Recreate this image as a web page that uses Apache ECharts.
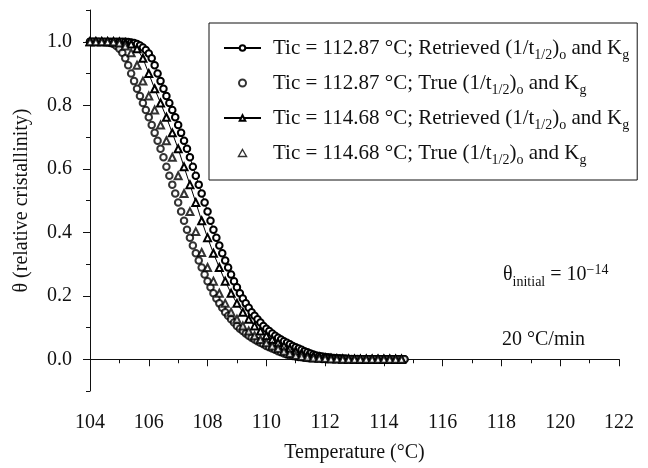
<!DOCTYPE html>
<html><head><meta charset="utf-8">
<script src="https://cdn.jsdelivr.net/npm/echarts@6/dist/echarts.min.js"></script>
<style>html,body{margin:0;padding:0;background:#fff}#c{width:648px;height:468px}</style>
</head><body><div id="c"></div>
<script>
// Temperatures (°C) of the circle series and triangle series
const tempCircle = [104.0,104.1,104.2,104.3,104.4,104.5,104.6,104.7,104.8,104.9,
105.0,105.1,105.2,105.3,105.4,105.5,105.6,105.7,105.8,105.9,
106.0,106.1,106.2,106.3,106.4,106.5,106.6,106.7,106.8,106.9,
107.0,107.1,107.2,107.3,107.4,107.5,107.6,107.7,107.8,107.9,
108.0,108.1,108.2,108.3,108.4,108.5,108.6,108.7,108.8,108.9,
109.0,109.1,109.2,109.3,109.4,109.5,109.6,109.7,109.8,109.9,
110.0,110.1,110.2,110.3,110.4,110.5,110.6,110.7,110.8,110.9,
111.0,111.1,111.2,111.3,111.4,111.5,111.6,111.7,111.8,111.9,
112.0,112.1,112.2,112.3,112.4,112.5,112.6,112.7,112.8,112.9,
113.0,113.1,113.2,113.3,113.4,113.5,113.6,113.7,113.8,113.9,
114.0,114.1,114.2,114.3,114.4,114.5,114.6,114.7];
const tempTriangle = [104.0,104.2,104.4,104.6,104.8,105.0,105.2,105.4,105.6,105.8,
106.0,106.2,106.4,106.6,106.8,107.0,107.2,107.4,107.6,107.8,
108.0,108.2,108.4,108.6,108.8,109.0,109.2,109.4,109.6,109.8,
110.0,110.2,110.4,110.6,110.8,111.0,111.2,111.4,111.6,111.8,
112.0,112.2,112.4,112.6,112.8,113.0,113.2,113.4,113.6,113.8,
114.0,114.2,114.4,114.6];

// Tic = 112.87 °C, retrieved (line + circles)
const retrieved11287 = [1,1,1,1,1,1,1,1,1,1.000,
1.000,1.000,1.000,0.999,0.998,0.996,0.993,0.988,0.982,0.974,
0.963,0.948,0.926,0.900,0.876,0.852,0.829,0.807,0.785,0.762,
0.738,0.713,0.688,0.663,0.636,0.606,0.578,0.550,0.522,0.494,
0.465,0.436,0.408,0.383,0.358,0.334,0.311,0.289,0.267,0.246,
0.227,0.208,0.191,0.176,0.162,0.148,0.137,0.126,0.116,0.105,
0.096,0.089,0.081,0.074,0.068,0.062,0.057,0.052,0.047,0.042,
0.038,0.034,0.030,0.025,0.022,0.018,0.015,0.012,0.010,0.009,
0.007,0.006,0.005,0.004,0.003,0.003,0.002,0.002,0.001,0.001,
0.001,0.001,0,0,0,0,0,0,0,0,
0,0,0,0,0,0,0,0];
// Tic = 112.87 °C, true (circles)
const true11287 = [1.000,1.000,1.000,1.000,0.999,0.999,0.998,0.996,0.993,0.987,
0.978,0.965,0.948,0.926,0.900,0.876,0.852,0.829,0.807,0.785,
0.762,0.738,0.713,0.688,0.663,0.636,0.606,0.578,0.550,0.522,
0.494,0.465,0.436,0.408,0.383,0.358,0.334,0.311,0.289,0.267,
0.246,0.227,0.208,0.191,0.176,0.162,0.148,0.137,0.126,0.116,
0.105,0.096,0.089,0.081,0.074,0.068,0.062,0.057,0.052,0.047,
0.042,0.038,0.034,0.030,0.025,0.022,0.018,0.015,0.012,0.010,
0.009,0.007,0.006,0.005,0.004,0.003,0.003,0.002,0.002,0.001,
0.001,0.001,0.001,0,0,0,0,0,0,0,
0,0,0,0,0,0,0,0,0,0,
0,0,0,0,0,0,0,0];
// Tic = 114.68 °C, retrieved (line + triangles)
const retrieved11468 = [1.000,1.000,1.000,1.000,1.000,0.999,0.997,0.993,0.978,0.948,
0.900,0.852,0.807,0.762,0.713,0.663,0.606,0.550,0.494,0.436,
0.383,0.334,0.289,0.246,0.208,0.176,0.148,0.126,0.105,0.089,
0.074,0.062,0.052,0.042,0.034,0.025,0.018,0.012,0.009,0.006,
0.004,0.003,0.002,0.001,0.001,0,0,0,0,0,
0,0,0,0];
// Tic = 114.68 °C, true (triangles)
const true11468 = [1.000,1.000,1.000,1.000,0.999,0.996,0.987,0.965,0.926,0.876,
0.829,0.785,0.738,0.688,0.636,0.578,0.522,0.465,0.402,0.336,
0.289,0.246,0.208,0.176,0.148,0.126,0.105,0.089,0.074,0.062,
0.052,0.042,0.034,0.025,0.018,0.012,0.009,0.006,0.004,0.003,
0.002,0.001,0.001,0,0,0,0,0,0,0,
0,0,0,0];

const seriesNames = [
  'Tic = 112.87 °C; Retrieved (1/t1/2)o and Kg',
  'Tic = 112.87 °C; True (1/t1/2)o and Kg',
  'Tic = 114.68 °C; Retrieved (1/t1/2)o and Kg',
  'Tic = 114.68 °C; True (1/t1/2)o and Kg'
];
const legendRich = [
  '{g| }{n|Tic = 112.87 °C; Retrieved (1/t}{s|1/2}{n|)}{s|o}{n| and K}{s|g}',
  '{g| }{n|Tic = 112.87 °C; True (1/t}{s|1/2}{n|)}{s|o}{n| and K}{s|g}',
  '{g| }{n|Tic = 114.68 °C; Retrieved (1/t}{s|1/2}{n|)}{s|o}{n| and K}{s|g}',
  '{g| }{n|Tic = 114.68 °C; True (1/t}{s|1/2}{n|)}{s|o}{n| and K}{s|g}'
];
const yTickValues = [0, 0.2, 0.4, 0.6, 0.8, 1.0];

const FONT = 'Liberation Serif';
const INK = '#000';
const TXT = '#111';
const pair = (xs, ys) => xs.map((x, i) => [x, ys[i]]);
const TRI = 'path://M0,-5L4.33,2.5L-4.33,2.5Z';

const chart = echarts.init(document.getElementById('c'), null, {renderer: 'canvas'});
chart.setOption({
  animation: false,
  backgroundColor: '#fff',
  grid: {left: 90, top: 10, width: 529, height: 381},
  xAxis: {
    type: 'value', min: 104, max: 122, interval: 2,
    axisLine: {lineStyle: {color: TXT, width: 1}},
    axisTick: {length: 7, lineStyle: {color: TXT}},
    minorTick: {show: true, splitNumber: 2, length: 4, lineStyle: {color: TXT}},
    splitLine: {show: false},
    axisLabel: {margin: 22, fontFamily: FONT, fontSize: 20, color: TXT},
    name: 'Temperature (°C)', nameLocation: 'middle', nameGap: 52,
    nameTextStyle: {fontFamily: FONT, fontSize: 20, color: TXT}
  },
  yAxis: [{
    type: 'value', min: -0.1, max: 1.1, interval: 0.1,
    axisLine: {show: true, lineStyle: {color: TXT, width: 1}},
    axisTick: {show: true, length: 7, customValues: yTickValues, lineStyle: {color: TXT}},
    splitLine: {show: false},
    axisLabel: {customValues: yTickValues, formatter: v => v.toFixed(1), margin: 18,
      fontFamily: FONT, fontSize: 20, color: TXT},
    name: 'θ (relative cristallinity)', nameLocation: 'middle', nameGap: 58,
    nameTextStyle: {fontFamily: FONT, fontSize: 20, color: TXT}
  }, {
    type: 'value', min: -0.1, max: 1.1, interval: 0.1, position: 'left',
    axisLine: {show: false}, splitLine: {show: false},
    axisTick: {show: true, length: 4, lineStyle: {color: TXT}},
    axisLabel: {show: false}
  }],
  legend: {
    orient: 'vertical', left: 209, top: 23,
    itemWidth: 37, itemHeight: 7, itemGap: 7,
    padding: [11, 8, 13, 14],
    borderColor: TXT, borderWidth: 1,
    selectedMode: false,
    data: [
      seriesNames[0],
      seriesNames[1],
      seriesNames[2],
      {name: seriesNames[3], icon: TRI, itemStyle: {color: '#fff', borderColor: INK, borderWidth: 1.4}}
    ],
    formatter: name => legendRich[seriesNames.indexOf(name)],
    textStyle: {
      fontFamily: FONT, fontSize: 21, color: TXT,
      rich: {
        g: {width: 7, fontSize: 21, fontFamily: FONT},
        n: {fontFamily: FONT, fontSize: 21, lineHeight: 22, color: TXT},
        s: {fontFamily: FONT, fontSize: 14, lineHeight: 14, padding: [14, 0, 0, 0], color: TXT}
      }
    }
  },
  graphic: [{
    type: 'text', left: 503, top: 261,
    style: {
      text: '{t|θ}{s|initial}{t| = 10}{p|−14}',
      rich: {
        t: {fontFamily: FONT, fontSize: 20, lineHeight: 22, fill: TXT},
        s: {fontFamily: FONT, fontSize: 14, lineHeight: 14, padding: [14, 0, 0, 0], fill: TXT},
        p: {fontFamily: FONT, fontSize: 14, lineHeight: 14, padding: [0, 0, 10, 0], fill: TXT}
      }
    }
  }, {
    type: 'text', left: 502, top: 330,
    style: {text: '20 °C/min', fontFamily: FONT, fontSize: 20, fill: TXT}
  }],
  series: [{
    name: seriesNames[0], type: 'line', data: pair(tempCircle, retrieved11287),
    symbol: 'emptyCircle', symbolSize: 6.5, showSymbol: true, showAllSymbol: true,
    itemStyle: {color: INK, borderWidth: 1.5}, lineStyle: {color: INK, width: 1}, z: 2
  }, {
    name: seriesNames[1], type: 'scatter', data: pair(tempCircle, true11287),
    symbol: 'emptyCircle', symbolSize: 6.5,
    itemStyle: {color: INK, borderWidth: 1.5}, z: 2
  }, {
    name: seriesNames[2], type: 'line', data: pair(tempTriangle, retrieved11468),
    symbol: 'emptyTriangle', symbolSize: 7, showSymbol: true, showAllSymbol: true,
    itemStyle: {color: INK, borderWidth: 1.4}, lineStyle: {color: INK, width: 1}, z: 3
  }, {
    name: seriesNames[3], type: 'scatter', data: pair(tempTriangle, true11468),
    symbol: 'emptyTriangle', symbolSize: 7,
    itemStyle: {color: INK, borderWidth: 1.4}, z: 3
  }]
});
</script>
</body></html>
